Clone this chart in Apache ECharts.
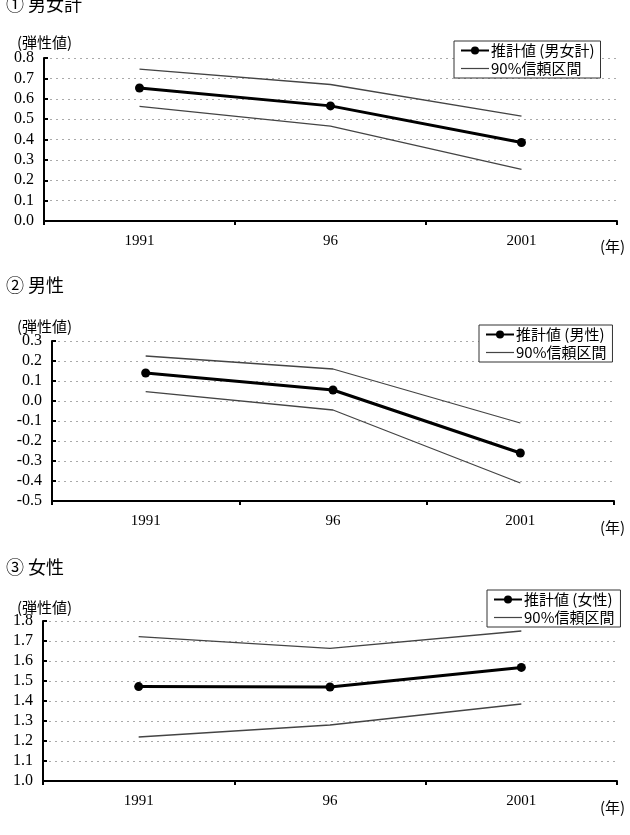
<!DOCTYPE html>
<html>
<head>
<meta charset="utf-8">
<script src="https://cdn.jsdelivr.net/npm/echarts@6/dist/echarts.min.js"></script>
<style>
  html, body { margin: 0; padding: 0; background: #fff; }
  #chart { width: 630px; height: 835px; }
</style>
</head>
<body>
<div id="chart"></div>
<script>
const years = ["1991", "96", "2001"];

const totalEst = [0.653, 0.565, 0.385];
const totalUpper = [0.745, 0.67, 0.515];
const totalLower = [0.563, 0.466, 0.253];

const maleEst = [0.14, 0.055, -0.26];
const maleUpper = [0.225, 0.16, -0.11];
const maleLower = [0.047, -0.045, -0.41];

const femaleEst = [1.472, 1.47, 1.568];
const femaleUpper = [1.722, 1.663, 1.75];
const femaleLower = [1.22, 1.28, 1.385];

const panels = [
  { title: "① 男女計", est: "推計値 (男女計)", estData: totalEst, upper: totalUpper, lower: totalLower,
    min: 0, max: 0.8, top: 58, height: 163, left: 44, right: 13,
    titleTop: -6, nameTop: 33, yearTop: 237, legendLeft: 454, legendTop: 41 },
  { title: "② 男性", est: "推計値 (男性)", estData: maleEst, upper: maleUpper, lower: maleLower,
    min: -0.5, max: 0.3, top: 341, height: 160, left: 52, right: 16,
    titleTop: 275, nameTop: 317, yearTop: 518, legendLeft: 479, legendTop: 325 },
  { title: "③ 女性", est: "推計値 (女性)", estData: femaleEst, upper: femaleUpper, lower: femaleLower,
    min: 1.0, max: 1.8, top: 621, height: 160, left: 43, right: 13,
    titleTop: 557, nameTop: 598, yearTop: 798, legendLeft: 487, legendTop: 590 },
];

const CJK = "'Noto Sans CJK JP', sans-serif";
const SERIF = "'Liberation Serif', 'DejaVu Serif', serif";
const CI_NAME = "90%信頼区間";
// plain thin bar so the CI legend entry has no marker
const CI_ICON = "path://M0,0 L30,0 L30,1.3 L0,1.3 Z";

const chart = echarts.init(document.querySelector("#chart"));

const titles = [];
const legends = [];
const grids = [];
const xAxes = [];
const yAxes = [];
const series = [];

panels.forEach((p, i) => {
  const text = { fontFamily: CJK, fontWeight: "normal", color: "#000", lineHeight: 18 };
  titles.push({ text: p.title, left: 6, top: p.titleTop, padding: 0, textStyle: { ...text, fontSize: 18, lineHeight: 20 } });
  titles.push({ text: "(弾性値)", left: 17, top: p.nameTop, padding: 0, textStyle: { ...text, fontSize: 15 } });
  titles.push({ text: "(年)", left: 600, top: p.yearTop, padding: 0, textStyle: { ...text, fontSize: 15 } });

  legends.push({
    data: [p.est, { name: CI_NAME, icon: CI_ICON }],
    orient: "vertical",
    left: p.legendLeft,
    top: p.legendTop,
    itemWidth: 28,
    itemHeight: 10,
    itemGap: 3,
    padding: [2, 6, 2, 6],
    backgroundColor: "#fff",
    borderColor: "#333",
    borderWidth: 1,
    selectedMode: false,
    textStyle: { fontFamily: CJK, fontSize: 15, color: "#000", padding: [0, 0, 0, -3] },
  });

  grids.push({ left: p.left, right: p.right, top: p.top, height: p.height });

  xAxes.push({
    type: "category",
    gridIndex: i,
    data: years,
    boundaryGap: true,
    axisLine: { onZero: false, lineStyle: { color: "#000", width: 2 } },
    axisTick: { show: true, inside: false, length: 4, lineStyle: { color: "#000", width: 2 } },
    axisLabel: { fontFamily: SERIF, fontSize: 15, color: "#000", margin: 13 },
    splitLine: { show: false },
  });

  yAxes.push({
    type: "value",
    gridIndex: i,
    min: p.min,
    max: p.max,
    interval: 0.1,
    axisLine: { show: true, onZero: false, lineStyle: { color: "#000", width: 2 } },
    axisTick: { show: true, inside: true, length: 4, lineStyle: { color: "#000", width: 2 } },
    axisLabel: {
      fontFamily: SERIF,
      fontSize: 16,
      color: "#000",
      margin: 10,
      formatter: (v) => v.toFixed(1),
    },
    splitLine: { show: true, lineStyle: { color: "#aaa", width: 1, type: [2, 4] } },
  });

  const ciLine = { color: "#444", width: 1.3 };
  series.push({
    name: CI_NAME, type: "line", xAxisIndex: i, yAxisIndex: i, data: p.upper,
    symbol: "none", lineStyle: ciLine, itemStyle: { color: "#444" }, z: 2, animation: false,
  });
  series.push({
    name: CI_NAME, type: "line", xAxisIndex: i, yAxisIndex: i, data: p.lower,
    symbol: "none", lineStyle: ciLine, itemStyle: { color: "#444" }, z: 2, animation: false,
  });
  series.push({
    name: p.est, type: "line", xAxisIndex: i, yAxisIndex: i, data: p.estData,
    symbol: "circle", symbolSize: 9, lineStyle: { color: "#000", width: 3 },
    itemStyle: { color: "#000" }, z: 3, animation: false,
  });
});

chart.setOption({
  backgroundColor: "#fff",
  animation: false,
  title: titles,
  legend: legends,
  grid: grids,
  xAxis: xAxes,
  yAxis: yAxes,
  series,
});
</script>
</body>
</html>
